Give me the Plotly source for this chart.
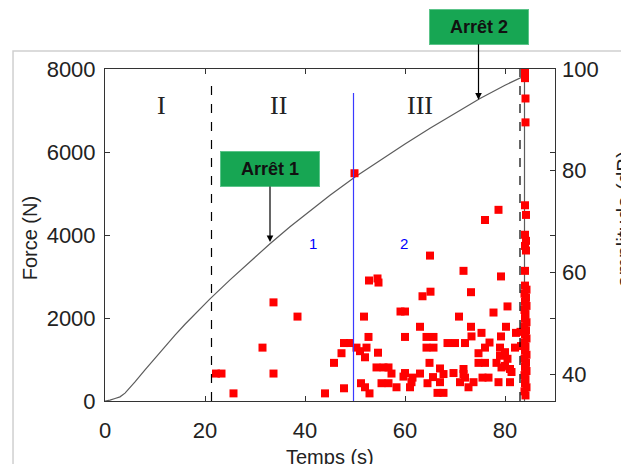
import plotly.graph_objects as go

# Force curve (Temps in s, Force in N)
time_s = [0, 1, 2, 3, 4, 5, 6, 8, 10, 12, 14, 16, 18, 21, 25, 29, 33, 37, 41, 45, 50,
          55, 60, 65, 70, 75, 80, 83.4, 83.9, 83.9]
force_N = [0, 20, 60, 100, 190, 320, 460, 750, 1035, 1315, 1585, 1850, 2100, 2460, 2920,
           3360, 3790, 4200, 4590, 4960, 5400, 5800, 6190, 6570, 6940, 7290, 7610,
           7810, 7830, 0]

# Acoustic emission hits (Temps in s, amplitude in dB)
ae_time = [22.2, 23.3, 25.7, 31.5, 33.7, 33.7, 38.5, 44.0, 45.8, 47.3, 47.8, 47.8, 49.0, 49.9,
           50.3, 51.2, 52.0, 52.9, 51.0, 52.0, 52.3, 51.8, 52.7, 52.8, 54.5, 54.7, 54.6, 54.3,
           55.7, 56.7, 57.3, 55.3, 56.7, 58.3, 59.1, 60.0, 60.0, 59.7, 60.0, 61.5, 61.0, 61.3,
           63.0, 63.0, 63.5, 65.1, 65.0, 64.3, 65.7, 64.3, 65.7, 64.9, 64.5, 65.6, 67.0, 66.5,
           67.7,
           78.7, 76.0, 71.7, 79.2, 73.2, 80.5, 77.7, 70.8, 73.2, 80.2, 73.3, 75.3, 79.2, 82.2,
           68.5, 70.0, 72.0, 76.9, 79.0, 74.7, 76.0, 82.0, 79.0, 80.0, 80.5, 74.7, 76.0, 78.3,
           80.0, 67.0, 67.7, 69.7, 71.7, 71.7, 75.5, 76.7, 79.3, 81.0, 81.3, 71.0, 72.0, 72.7,
           73.7, 78.7, 81.0,
           84.0, 84.0, 84.1, 84.1, 84.0, 84.2, 84.0, 84.2, 84.0, 84.2, 84.0, 84.0, 84.3, 83.9,
           84.2, 84.0, 84.3, 83.9, 84.1, 84.0, 84.3, 83.9, 84.2, 84.0, 84.3, 83.9, 84.1, 84.0,
           84.3, 83.9, 84.2, 84.0, 84.3, 83.9, 84.1, 84.0, 84.3, 83.9, 84.1, 83.1, 83.2]
ae_amp = [40.1, 40.1, 36.2, 45.2, 54.1, 40.1, 51.3, 36.2, 42.2, 44.1, 37.2, 46.1, 46.1, 79.5,
          45.2, 38.2, 37.4, 36.2, 44.5, 43.3, 45.2, 51.3, 47.3, 58.4, 58.8, 58.0, 44.2, 41.3,
          41.3, 41.3, 40.1, 38.2, 38.2, 37.4, 52.3, 52.3, 47.3, 39.5, 40.2, 39.3, 37.4, 38.4,
          49.3, 40.1, 55.3, 56.2, 63.3, 47.3, 47.3, 45.2, 45.2, 42.2, 38.2, 39.4, 38.4, 36.3,
          36.3,
          72.3, 70.3, 60.3, 59.2, 56.1, 53.3, 52.1, 51.3, 49.3, 49.3, 47.4, 48.1, 47.4, 48.1,
          46.1, 46.1, 46.1, 46.2, 45.2, 44.1, 45.2, 45.2, 43.6, 44.3, 43.0, 42.2, 42.2, 42.2,
          41.6, 41.1, 40.0, 40.2, 41.0, 40.0, 39.3, 39.3, 41.3, 41.0, 40.4, 38.4, 39.3, 37.4,
          38.4, 38.4, 38.4,
          99.4, 98.2, 94.2, 89.5, 73.2, 71.3, 67.4, 66.2, 65.2, 64.3, 60.3, 57.4, 56.6, 55.8,
          55.0, 54.2, 53.4, 52.6, 51.8, 51.0, 50.2, 49.4, 48.6, 47.8, 47.0, 46.2, 45.4, 44.6,
          43.8, 43.0, 42.2, 41.4, 40.6, 39.8, 39.0, 38.2, 37.4, 36.6, 35.8, 48.3, 45.5]

x_ticks = [0, 20, 40, 60, 80]
force_ticks = [0, 2000, 4000, 6000, 8000]
amp_ticks = [40, 60, 80, 100]

# Phase boundaries
stop_times = [21.3, 83.0]
zone_time = 49.7
phase_labels = ["I", "II", "III"]
phase_t = [11.3, 34.7, 63.0]
zone_labels = ["1", "2"]
zone_t = [41.5, 59.7]

FONT = "Liberation Sans, Arial, sans-serif"

fig = go.Figure()
fig.add_trace(go.Scatter(x=time_s, y=force_N, mode="lines",
                         line=dict(color="#5c5c5c", width=1.2), showlegend=False))
fig.add_trace(go.Scatter(x=ae_time, y=ae_amp, mode="markers", yaxis="y2",
                         marker=dict(symbol="square", size=8, color="#ff0000",
                                     line=dict(width=0)), showlegend=False))

# vertical boundary lines
fig.add_shape(type="line", x0=stop_times[0], x1=stop_times[0], y0=0, y1=7660,
              xref="x", yref="y", line=dict(color="black", width=1.2, dash="dash"))
fig.add_shape(type="line", x0=stop_times[1], x1=stop_times[1], y0=0, y1=8000,
              xref="x", yref="y", line=dict(color="black", width=1.2, dash="dash"))
fig.add_shape(type="line", x0=zone_time, x1=zone_time, y0=0, y1=7420,
              xref="x", yref="y", line=dict(color="#3a3aff", width=1.2))

# outer light frame
fig.add_shape(type="rect", xref="paper", yref="paper", x0=-0.2044, x1=1.5,
              y0=-0.6, y1=1.0542, line=dict(color="#cfcfcf", width=1.5), layer="below")

for lab, t in zip(phase_labels, phase_t):
    fig.add_annotation(x=t, y=7130, xref="x", yref="y", text=lab, showarrow=False,
                       font=dict(family="Liberation Serif, Times New Roman, serif",
                                 size=26, color="#222"))
for lab, t in zip(zone_labels, zone_t):
    fig.add_annotation(x=t, y=3800, xref="x", yref="y", text=lab, showarrow=False,
                       font=dict(family=FONT, size=15, color="#0000ff"))

# Arrêt boxes with arrows
for txt, t, f in [("Arrêt 1", 33.0, 3830), ("Arrêt 2", 74.7, 7260)]:
    fig.add_annotation(x=t, y=f, xref="x", yref="y", text="<b>" + txt + "</b>",
                       showarrow=True, ax=0, ay=-73, arrowhead=2, arrowsize=1.1,
                       arrowwidth=1.2, arrowcolor="black", standoff=0,
                       bgcolor="#17a653", bordercolor="#5cc48a", borderwidth=1,
                       width=96, height=32, borderpad=1,
                       font=dict(family=FONT, size=18, color="#111"))

# axis titles
fig.add_annotation(xref="paper", yref="paper", x=-0.1667, y=0.49, text="Force (N)",
                   xanchor="center", yanchor="middle",
                   textangle=-90, showarrow=False, font=dict(family=FONT, size=20, color="#222"))
fig.add_annotation(xref="paper", yref="paper", x=0.5, y=-0.169, text="Temps (s)",
                   xanchor="center", yanchor="middle",
                   showarrow=False, font=dict(family=FONT, size=20, color="#222"))
fig.add_annotation(xref="paper", yref="paper", x=1.153, y=0.55, text="amplitude (dB)",
                   xanchor="center", yanchor="middle",
                   textangle=-90, showarrow=False, font=dict(family=FONT, size=21, color="#222"))

axis_common = dict(showgrid=False, zeroline=False, ticks="inside", ticklen=5,
                   tickcolor="#333", automargin=False,
                   tickfont=dict(family=FONT, size=22, color="#222"))

# The page body adds an 8 px offset, so the figure is 8 px smaller on each axis
fig.update_layout(
    width=621, height=456,
    margin=dict(l=97, r=74, t=61, b=63),
    paper_bgcolor="white", plot_bgcolor="white",
    xaxis=dict(range=[0, 90], tickvals=x_ticks, showline=True, linecolor="#333",
               mirror="ticks", ticklabelstandoff=10, **axis_common),
    yaxis=dict(range=[0, 8000], tickvals=force_ticks, showline=True, linecolor="#333",
               mirror="ticks", ticklabelstandoff=4, **axis_common),
    yaxis2=dict(range=[34.7, 100], tickvals=amp_ticks, overlaying="y", side="right",
                showline=False, ticklabelstandoff=6, **axis_common),
)

fig.write_html("out.html")
